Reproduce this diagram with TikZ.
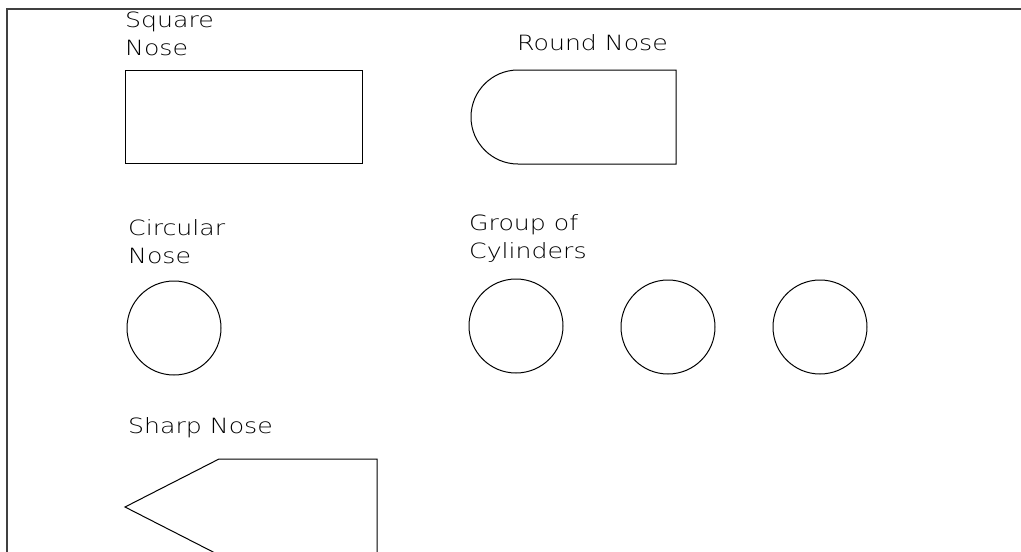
\documentclass[tikz,border=0pt]{standalone}
\usepackage{fontspec}
\setmainfont{DejaVu Sans ExtraLight}[FakeStretch=1.2]
\begin{document}
\begin{tikzpicture}[x=1pt,y=-1pt,
  shape line/.style={draw=black, line width=1pt},
  frame line/.style={draw=black!75, line width=1.4pt},
  label/.style={anchor=north west, inner sep=0pt, align=left,
    font=\fontsize{21}{28}\selectfont}]
\useasboundingbox (0,0) rectangle (1021,552);
\clip (0,0) rectangle (1021,552);
% frame
\draw[frame line] (7,560) -- (7,9) -- (1030,9);
% square nose
\node[label] (sq) at (125,12) {Square\\Nose};
\draw[shape line] (125,70) rectangle (362,163);
% round nose
\node[label] (rn) at (517,34) {Round Nose};
\draw[shape line] (676,70) -- (518,70) arc[start angle=270, end angle=90, radius=47]
  -- (676,164) -- cycle;
% circular nose
\node[label] (cn) at (128,219) {Circular\\Nose};
\draw[shape line] (174,328) circle[radius=47];
% group of cylinders
\node[label] (gc) at (469,214) {Group of\\Cylinders};
\draw[shape line] (516,326) circle[radius=47];
\draw[shape line] (668,327) circle[radius=47];
\draw[shape line] (820,327) circle[radius=47];
% sharp nose
\node[label] (sn) at (128,417) {Sharp Nose};
\draw[shape line] (377,560) -- (377,459) -- (219,459) -- (125,507) -- (219,555) -- (377,555);
\end{tikzpicture}
\end{document}
